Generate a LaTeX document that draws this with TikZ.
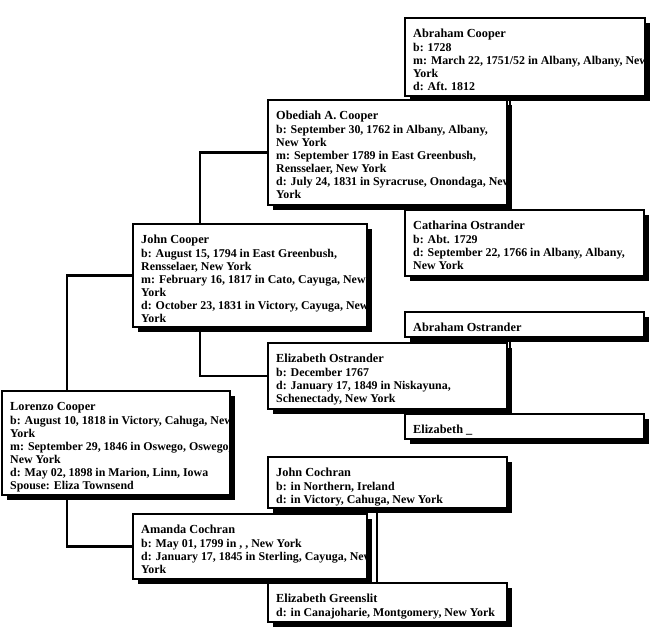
\documentclass[tikz,border=0pt]{standalone}
\usepackage{fontspec}
\setmainfont{Liberation Serif}
\usetikzlibrary{shadows,calc}
\pgfdeclarelayer{bottom}
\pgfdeclarelayer{background}
\pgfsetlayers{bottom,background,main}
\tikzset{
  pbox/.style={draw=black, line width=2.4pt, fill=white, rectangle, inner sep=0pt, outer sep=0pt, anchor=north west,
    drop shadow={shadow xshift=4.5pt, shadow yshift=-4.5pt, fill=black, opacity=1}},
  pname/.style={anchor=base west, inner sep=0pt, font=\fontsize{12.3}{14}\selectfont\bfseries},
  pdet/.style={anchor=base west, inner sep=0pt, font=\fontsize{11.9}{13}\selectfont\bfseries},
  conn/.style={line width=2.6pt}
}
\newcommand{\personbox}[6]{%
  \node[pbox, minimum width={#4-#2}, minimum height={#5-#3}] (#1) at (#2,#3) {};
  \begin{scope}
    \clip ($(#1.north west)+(1.2,1.2)$) rectangle ($(#1.south east)+(-1.2,-1.2)$);
    \node[pname] (#1-n) at ($(#1.north west)+(8,19.5)$) {#6};
  \end{scope}
}
\newcommand{\person}[7]{%
  \personbox{#1}{#2}{#3}{#4}{#5}{#6}
  \begin{scope}
    \clip ($(#1.north west)+(1.2,1.2)$) rectangle ($(#1.south east)+(-1.2,-1.2)$);
    \foreach \dline [count=\i] in {#7} {
      \node[pdet] (#1-l\i) at ($(#1-n.base west)+(0,{0.5+13*\i})$) {\dline};
    }
  \end{scope}
}
\begin{document}
\begin{tikzpicture}[x=1pt,y=-1pt]
\useasboundingbox (0,0) rectangle (650,630);
\begin{pgfonlayer}{bottom}
\fill[white] (0,0) rectangle (650,630);
\end{pgfonlayer}

\person{ac}{405}{18}{645}{96}{Abraham Cooper}{{b: 1728},{m: March 22, 1751/52 in Albany, Albany, New},{York},{d: Aft. 1812}}
\person{oc}{268}{100}{507}{205}{Obediah A. Cooper}{{b: September 30, 1762 in Albany, Albany,},{New York},{m: September 1789 in East Greenbush,},{Rensselaer, New York},{d: July 24, 1831 in Syracruse, Onondaga, New},{York}}
\person{co}{405}{210}{644}{276}{Catharina Ostrander}{{b: Abt. 1729},{d: September 22, 1766 in Albany, Albany,},{New York}}
\person{jc}{133}{224}{367}{327}{John Cooper}{{b: August 15, 1794 in East Greenbush,},{Rensselaer, New York},{m: February 16, 1817 in Cato, Cayuga, New},{York},{d: October 23, 1831 in Victory, Cayuga, New},{York}}
\personbox{ao}{405}{312}{644}{337}{Abraham Ostrander}
\person{eo}{268}{343}{507}{409}{Elizabeth Ostrander}{{b: December 1767},{d: January 17, 1849 in Niskayuna,},{Schenectady, New York}}
\personbox{eu}{405}{414}{644}{439}{Elizabeth \_}
\person{lc}{2}{391}{230}{495}{Lorenzo Cooper}{{b: August 10, 1818 in Victory, Cahuga, New},{York},{m: September 29, 1846 in Oswego, Oswego,},{New York},{d: May 02, 1898 in Marion, Linn, Iowa},{Spouse: Eliza Townsend}}
\person{jch}{268}{457}{507}{508}{John Cochran}{{b: in Northern, Ireland},{d: in Victory, Cahuga, New York}}
\person{am}{133}{514}{367}{579}{Amanda Cochran}{{b: May 01, 1799 in , , New York},{d: January 17, 1845 in Sterling, Cayuga, New},{York}}
\person{eg}{268}{583}{507}{622}{Elizabeth Greenslit}{{d: in Canajoharie, Montgomery, New York}}

\coordinate (xlc) at (67,0);
\coordinate (xjc) at (200,0);
\coordinate (xoc) at (510,0);
\coordinate (xeo) at (510,0);
\coordinate (xam) at (377,0);
\begin{pgfonlayer}{background}
\draw[conn] (jc.west) -- (jc.west -| xlc) -- (am.west -| xlc) -- (am.west);
\draw[conn] (oc.west) -- (oc.west -| xjc) -- (eo.west -| xjc) -- (eo.west);
\draw[conn] (ac.west) -- (ac.west -| xoc) -- (co.west -| xoc) -- (co.west);
\draw[conn] (ao.west) -- (ao.west -| xeo) -- (eu.west -| xeo) -- (eu.west);
\draw[conn] (jch.west) -- (jch.west -| xam) -- (eg.west -| xam) -- (eg.west);
\end{pgfonlayer}
\end{tikzpicture}
\end{document}
